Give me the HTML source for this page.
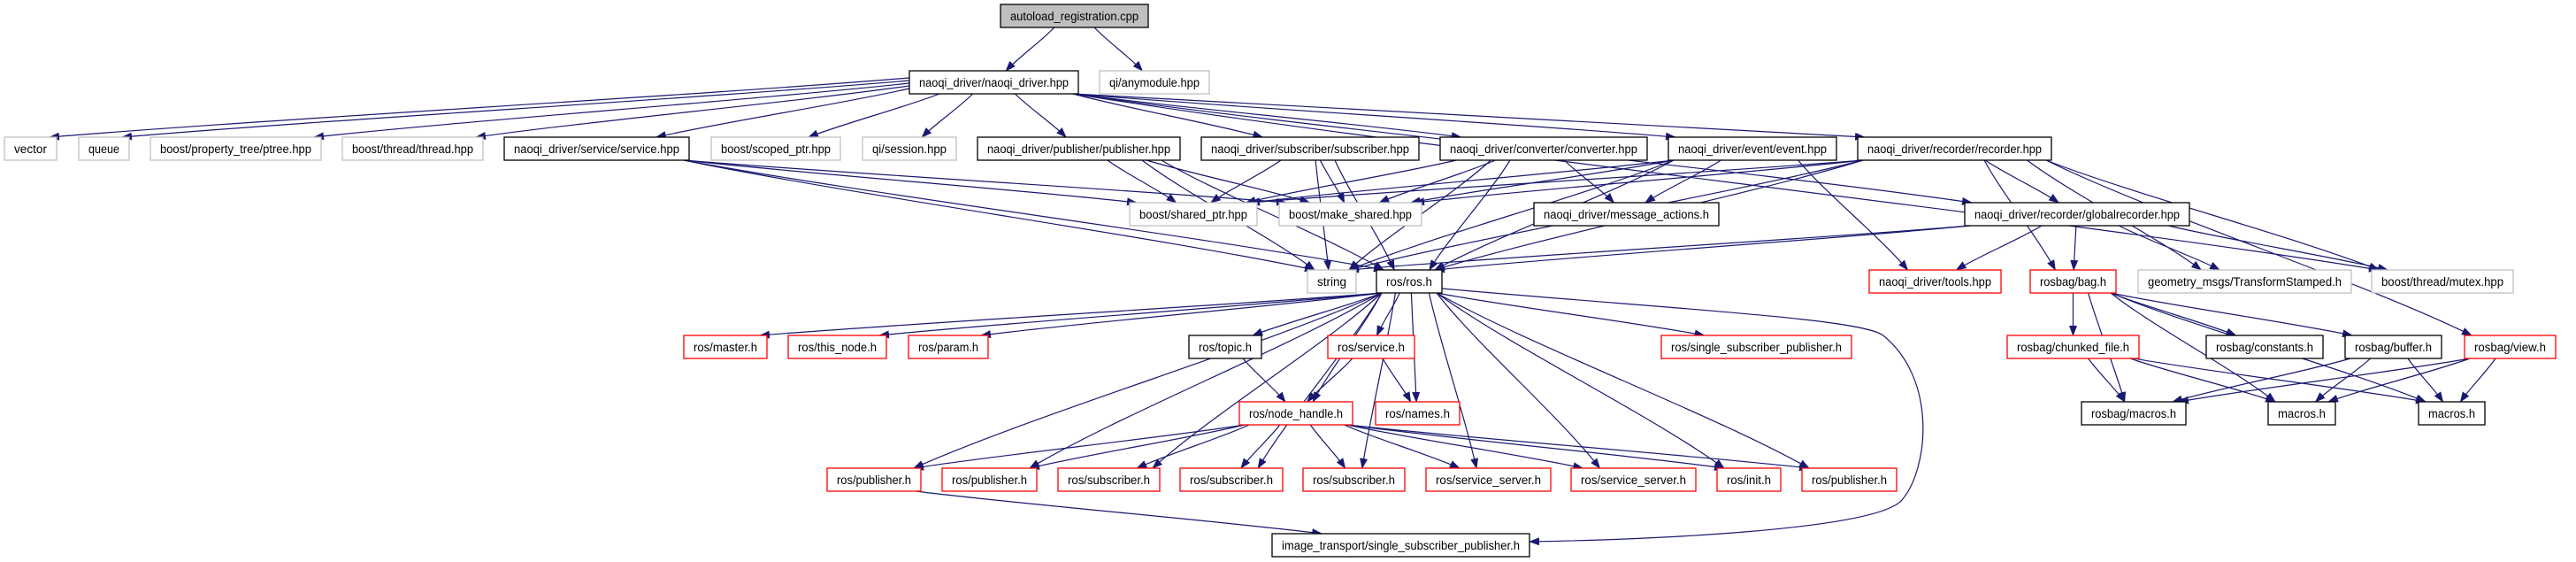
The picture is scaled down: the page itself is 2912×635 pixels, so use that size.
<!DOCTYPE html>
<html><head><meta charset="utf-8"><style>
html,body{margin:0;padding:0;background:#fff;width:2912px;height:635px;overflow:hidden}
svg text{font-family:"Liberation Sans",sans-serif;font-size:13.5px;fill:#000}
</style></head><body>
<svg id="s" width="2912" height="635" viewBox="0 0 2912 635" xmlns="http://www.w3.org/2000/svg">
<defs><marker id="a" markerUnits="userSpaceOnUse" markerWidth="12" markerHeight="9" refX="11" refY="4.5" orient="auto"><path d="M0,0 L12,4.5 L0,9 z" fill="#191970"/></marker></defs>
<g id="edges" fill="none" stroke="#191970" stroke-width="1.2"></g>
<g id="nodes" stroke-width="1.3">
<rect x="1131" y="5" width="167" height="26" fill="#bfbfbf" stroke="#000"/><text x="1214.5" y="23" text-anchor="middle" textLength="145" lengthAdjust="spacingAndGlyphs">autoload_registration.cpp</text>
<rect x="1028" y="80" width="191" height="26" fill="#fff" stroke="#000"/><text x="1123.5" y="98" text-anchor="middle" textLength="169" lengthAdjust="spacingAndGlyphs">naoqi_driver/naoqi_driver.hpp</text>
<rect x="1243" y="80" width="124" height="26" fill="#fff" stroke="#bfbfbf"/><text x="1305" y="98" text-anchor="middle" textLength="102" lengthAdjust="spacingAndGlyphs">qi/anymodule.hpp</text>
<rect x="5" y="155" width="59" height="26" fill="#fff" stroke="#bfbfbf"/><text x="34.5" y="173" text-anchor="middle" textLength="37" lengthAdjust="spacingAndGlyphs">vector</text>
<rect x="89" y="155" width="57" height="26" fill="#fff" stroke="#bfbfbf"/><text x="117.5" y="173" text-anchor="middle" textLength="35" lengthAdjust="spacingAndGlyphs">queue</text>
<rect x="170" y="155" width="193" height="26" fill="#fff" stroke="#bfbfbf"/><text x="266.5" y="173" text-anchor="middle" textLength="171" lengthAdjust="spacingAndGlyphs">boost/property_tree/ptree.hpp</text>
<rect x="387" y="155" width="159" height="26" fill="#fff" stroke="#bfbfbf"/><text x="466.5" y="173" text-anchor="middle" textLength="137" lengthAdjust="spacingAndGlyphs">boost/thread/thread.hpp</text>
<rect x="570" y="155" width="209" height="26" fill="#fff" stroke="#000"/><text x="674.5" y="173" text-anchor="middle" textLength="187" lengthAdjust="spacingAndGlyphs">naoqi_driver/service/service.hpp</text>
<rect x="804" y="155" width="146" height="26" fill="#fff" stroke="#bfbfbf"/><text x="877" y="173" text-anchor="middle" textLength="124" lengthAdjust="spacingAndGlyphs">boost/scoped_ptr.hpp</text>
<rect x="975" y="155" width="106" height="26" fill="#fff" stroke="#bfbfbf"/><text x="1028" y="173" text-anchor="middle" textLength="84" lengthAdjust="spacingAndGlyphs">qi/session.hpp</text>
<rect x="1105" y="155" width="229" height="26" fill="#fff" stroke="#000"/><text x="1219.5" y="173" text-anchor="middle" textLength="207" lengthAdjust="spacingAndGlyphs">naoqi_driver/publisher/publisher.hpp</text>
<rect x="1358" y="155" width="246" height="26" fill="#fff" stroke="#000"/><text x="1481" y="173" text-anchor="middle" textLength="224" lengthAdjust="spacingAndGlyphs">naoqi_driver/subscriber/subscriber.hpp</text>
<rect x="1628" y="155" width="234" height="26" fill="#fff" stroke="#000"/><text x="1745" y="173" text-anchor="middle" textLength="212" lengthAdjust="spacingAndGlyphs">naoqi_driver/converter/converter.hpp</text>
<rect x="1886" y="155" width="190" height="26" fill="#fff" stroke="#000"/><text x="1981" y="173" text-anchor="middle" textLength="168" lengthAdjust="spacingAndGlyphs">naoqi_driver/event/event.hpp</text>
<rect x="2100" y="155" width="219" height="26" fill="#fff" stroke="#000"/><text x="2209.5" y="173" text-anchor="middle" textLength="197" lengthAdjust="spacingAndGlyphs">naoqi_driver/recorder/recorder.hpp</text>
<rect x="1277" y="229" width="144" height="26" fill="#fff" stroke="#bfbfbf"/><text x="1349" y="247" text-anchor="middle" textLength="122" lengthAdjust="spacingAndGlyphs">boost/shared_ptr.hpp</text>
<rect x="1446" y="229" width="161" height="26" fill="#fff" stroke="#bfbfbf"/><text x="1526.5" y="247" text-anchor="middle" textLength="139" lengthAdjust="spacingAndGlyphs">boost/make_shared.hpp</text>
<rect x="1734" y="229" width="209" height="26" fill="#fff" stroke="#000"/><text x="1838.5" y="247" text-anchor="middle" textLength="187" lengthAdjust="spacingAndGlyphs">naoqi_driver/message_actions.h</text>
<rect x="2221" y="229" width="254" height="26" fill="#fff" stroke="#000"/><text x="2348" y="247" text-anchor="middle" textLength="232" lengthAdjust="spacingAndGlyphs">naoqi_driver/recorder/globalrecorder.hpp</text>
<rect x="1478" y="305" width="55" height="26" fill="#fff" stroke="#bfbfbf"/><text x="1505.5" y="323" text-anchor="middle" textLength="33" lengthAdjust="spacingAndGlyphs">string</text>
<rect x="1556" y="305" width="74" height="26" fill="#fff" stroke="#000"/><text x="1593" y="323" text-anchor="middle" textLength="52" lengthAdjust="spacingAndGlyphs">ros/ros.h</text>
<rect x="2113" y="305" width="149" height="26" fill="#fff" stroke="#f00"/><text x="2187.5" y="323" text-anchor="middle" textLength="127" lengthAdjust="spacingAndGlyphs">naoqi_driver/tools.hpp</text>
<rect x="2295" y="305" width="97" height="26" fill="#fff" stroke="#f00"/><text x="2343.5" y="323" text-anchor="middle" textLength="75" lengthAdjust="spacingAndGlyphs">rosbag/bag.h</text>
<rect x="2417" y="305" width="241" height="26" fill="#fff" stroke="#bfbfbf"/><text x="2537.5" y="323" text-anchor="middle" textLength="219" lengthAdjust="spacingAndGlyphs">geometry_msgs/TransformStamped.h</text>
<rect x="2681" y="305" width="160" height="26" fill="#fff" stroke="#bfbfbf"/><text x="2761" y="323" text-anchor="middle" textLength="138" lengthAdjust="spacingAndGlyphs">boost/thread/mutex.hpp</text>
<rect x="773" y="379" width="94" height="26" fill="#fff" stroke="#f00"/><text x="820" y="397" text-anchor="middle" textLength="72" lengthAdjust="spacingAndGlyphs">ros/master.h</text>
<rect x="891" y="379" width="111" height="26" fill="#fff" stroke="#f00"/><text x="946.5" y="397" text-anchor="middle" textLength="89" lengthAdjust="spacingAndGlyphs">ros/this_node.h</text>
<rect x="1027" y="379" width="90" height="26" fill="#fff" stroke="#f00"/><text x="1072" y="397" text-anchor="middle" textLength="68" lengthAdjust="spacingAndGlyphs">ros/param.h</text>
<rect x="1344" y="379" width="82" height="26" fill="#fff" stroke="#000"/><text x="1385" y="397" text-anchor="middle" textLength="60" lengthAdjust="spacingAndGlyphs">ros/topic.h</text>
<rect x="1501" y="379" width="98" height="26" fill="#fff" stroke="#f00"/><text x="1550" y="397" text-anchor="middle" textLength="76" lengthAdjust="spacingAndGlyphs">ros/service.h</text>
<rect x="1878" y="379" width="215" height="26" fill="#fff" stroke="#f00"/><text x="1985.5" y="397" text-anchor="middle" textLength="193" lengthAdjust="spacingAndGlyphs">ros/single_subscriber_publisher.h</text>
<rect x="2269" y="379" width="149" height="26" fill="#fff" stroke="#f00"/><text x="2343.5" y="397" text-anchor="middle" textLength="127" lengthAdjust="spacingAndGlyphs">rosbag/chunked_file.h</text>
<rect x="2494" y="379" width="132" height="26" fill="#fff" stroke="#000"/><text x="2560" y="397" text-anchor="middle" textLength="110" lengthAdjust="spacingAndGlyphs">rosbag/constants.h</text>
<rect x="2651" y="379" width="109" height="26" fill="#fff" stroke="#000"/><text x="2705.5" y="397" text-anchor="middle" textLength="87" lengthAdjust="spacingAndGlyphs">rosbag/buffer.h</text>
<rect x="2786" y="379" width="103" height="26" fill="#fff" stroke="#f00"/><text x="2837.5" y="397" text-anchor="middle" textLength="81" lengthAdjust="spacingAndGlyphs">rosbag/view.h</text>
<rect x="1401" y="454" width="128" height="26" fill="#fff" stroke="#f00"/><text x="1465" y="472" text-anchor="middle" textLength="106" lengthAdjust="spacingAndGlyphs">ros/node_handle.h</text>
<rect x="1555" y="454" width="95" height="26" fill="#fff" stroke="#f00"/><text x="1602.5" y="472" text-anchor="middle" textLength="73" lengthAdjust="spacingAndGlyphs">ros/names.h</text>
<rect x="2353" y="454" width="118" height="26" fill="#fff" stroke="#000"/><text x="2412" y="472" text-anchor="middle" textLength="96" lengthAdjust="spacingAndGlyphs">rosbag/macros.h</text>
<rect x="2564" y="454" width="76" height="26" fill="#fff" stroke="#000"/><text x="2602" y="472" text-anchor="middle" textLength="54" lengthAdjust="spacingAndGlyphs">macros.h</text>
<rect x="2734" y="454" width="75" height="26" fill="#fff" stroke="#000"/><text x="2771.5" y="472" text-anchor="middle" textLength="53" lengthAdjust="spacingAndGlyphs">macros.h</text>
<rect x="935" y="529" width="106" height="26" fill="#fff" stroke="#f00"/><text x="988" y="547" text-anchor="middle" textLength="84" lengthAdjust="spacingAndGlyphs">ros/publisher.h</text>
<rect x="1065" y="529" width="107" height="26" fill="#fff" stroke="#f00"/><text x="1118.5" y="547" text-anchor="middle" textLength="85" lengthAdjust="spacingAndGlyphs">ros/publisher.h</text>
<rect x="1196" y="529" width="115" height="26" fill="#fff" stroke="#f00"/><text x="1253.5" y="547" text-anchor="middle" textLength="93" lengthAdjust="spacingAndGlyphs">ros/subscriber.h</text>
<rect x="1334" y="529" width="116" height="26" fill="#fff" stroke="#f00"/><text x="1392" y="547" text-anchor="middle" textLength="94" lengthAdjust="spacingAndGlyphs">ros/subscriber.h</text>
<rect x="1473" y="529" width="115" height="26" fill="#fff" stroke="#f00"/><text x="1530.5" y="547" text-anchor="middle" textLength="93" lengthAdjust="spacingAndGlyphs">ros/subscriber.h</text>
<rect x="1612" y="529" width="141" height="26" fill="#fff" stroke="#f00"/><text x="1682.5" y="547" text-anchor="middle" textLength="119" lengthAdjust="spacingAndGlyphs">ros/service_server.h</text>
<rect x="1776" y="529" width="141" height="26" fill="#fff" stroke="#f00"/><text x="1846.5" y="547" text-anchor="middle" textLength="119" lengthAdjust="spacingAndGlyphs">ros/service_server.h</text>
<rect x="1941" y="529" width="72" height="26" fill="#fff" stroke="#f00"/><text x="1977" y="547" text-anchor="middle" textLength="50" lengthAdjust="spacingAndGlyphs">ros/init.h</text>
<rect x="2037" y="529" width="107" height="26" fill="#fff" stroke="#f00"/><text x="2090.5" y="547" text-anchor="middle" textLength="85" lengthAdjust="spacingAndGlyphs">ros/publisher.h</text>
<rect x="1438" y="603" width="291" height="26" fill="#fff" stroke="#000"/><text x="1583.5" y="621" text-anchor="middle" textLength="269" lengthAdjust="spacingAndGlyphs">image_transport/single_subscriber_publisher.h</text>
</g>
</svg>
<script>
var R=[5,80,155,229,305,379,454,529,603];
var N={auto:[1131,1298,0],nd:[1028,1219,1],anym:[1243,1367,1],vector:[5,64,2],queue:[89,146,2],ptree:[170,363,2],thread:[387,546,2],service:[570,779,2],scoped:[804,950,2],session:[975,1081,2],pub:[1105,1334,2],sub:[1358,1604,2],conv:[1628,1862,2],event:[1886,2076,2],rec:[2100,2319,2],
shared:[1277,1421,3],make:[1446,1607,3],msg:[1734,1943,3],glob:[2221,2475,3],string:[1478,1533,4],ros:[1556,1630,4],tools:[2113,2262,4],bag:[2295,2392,4],tf:[2417,2658,4],mutex:[2681,2841,4],
master:[773,867,5],thisn:[891,1002,5],param:[1027,1117,5],topic:[1344,1426,5],srv:[1501,1599,5],ssp:[1878,2093,5],chunk:[2269,2418,5],cst:[2494,2626,5],buf:[2651,2760,5],view:[2786,2889,5],
nh:[1401,1529,6],names:[1555,1650,6],rmac:[2353,2471,6],mac1:[2564,2640,6],mac2:[2734,2809,6],
p1:[935,1041,7],p2:[1065,1172,7],s1:[1196,1311,7],s2:[1334,1450,7],s3:[1473,1588,7],ss1:[1612,1753,7],ss2:[1776,1917,7],init:[1941,2013,7],p3:[2037,2144,7],img:[1438,1729,8]};
var E={auto:['nd','anym'],nd:['vector','queue','ptree','thread','service','scoped','session','pub','sub','conv','event','rec','glob','mutex'],
service:['shared','make','string','ros'],pub:['shared','make','string','ros'],sub:['shared','make','string','ros'],
conv:['shared','make','string','ros','msg'],event:['shared','make','msg','string','ros','tools'],
rec:['shared','make','string','ros','glob','bag','tf','mutex','view'],glob:['string','ros','tools','bag','tf','mutex'],
ros:['master','thisn','param','topic','nh','srv','names','ssp','p1','p2','p3','s1','s2','s3','ss1','ss2','init'],
topic:['nh'],srv:['nh','names'],nh:['p1','p2','s1','s2','s3','ss1','ss2','init','p3'],p1:['img'],
bag:['chunk','cst','buf','rmac','mac1','mac2'],chunk:['rmac','mac1','mac2'],buf:['rmac','mac1','mac2'],view:['rmac','mac1','mac2']};
var SIDE={vector:88,queue:91,ptree:94,thread:97,service:100};
function cl(v,a,b){return Math.max(a,Math.min(b,v));}
var g=document.getElementById('edges'),h='';
for(var s in E){E[s].forEach(function(t){var A=N[s],B=N[t];
var ac=(A[0]+A[1])/2,bc=(B[0]+B[1])/2;
var sx=cl(ac+(bc-ac)*0.25,A[0]+6,A[1]-6),sy=R[A[2]]+26;
var tx=cl(bc+(ac-bc)*0.15,B[0]+8,B[1]-8),ty=R[B[2]];
if(s=='nd'&&SIDE[t]){sx=A[0];sy=SIDE[t];}
var dy=ty-sy,dx=tx-sx;
h+='<path marker-end="url(#a)" d="M'+sx+','+sy+' C'+(sx+dx*0.25)+','+(sy+dy*0.3)+' '+(tx-dx*0.25)+','+(ty-dy*0.3)+' '+tx+','+ty+'"/>';});}
h+='<path marker-end="url(#a)" d="M1630,326 C1900,350 2110,360 2130,380 C2190,430 2180,530 2150,565 C2120,600 1850,610 1729,612"/>';
g.innerHTML=h;
</script>
</body></html>
